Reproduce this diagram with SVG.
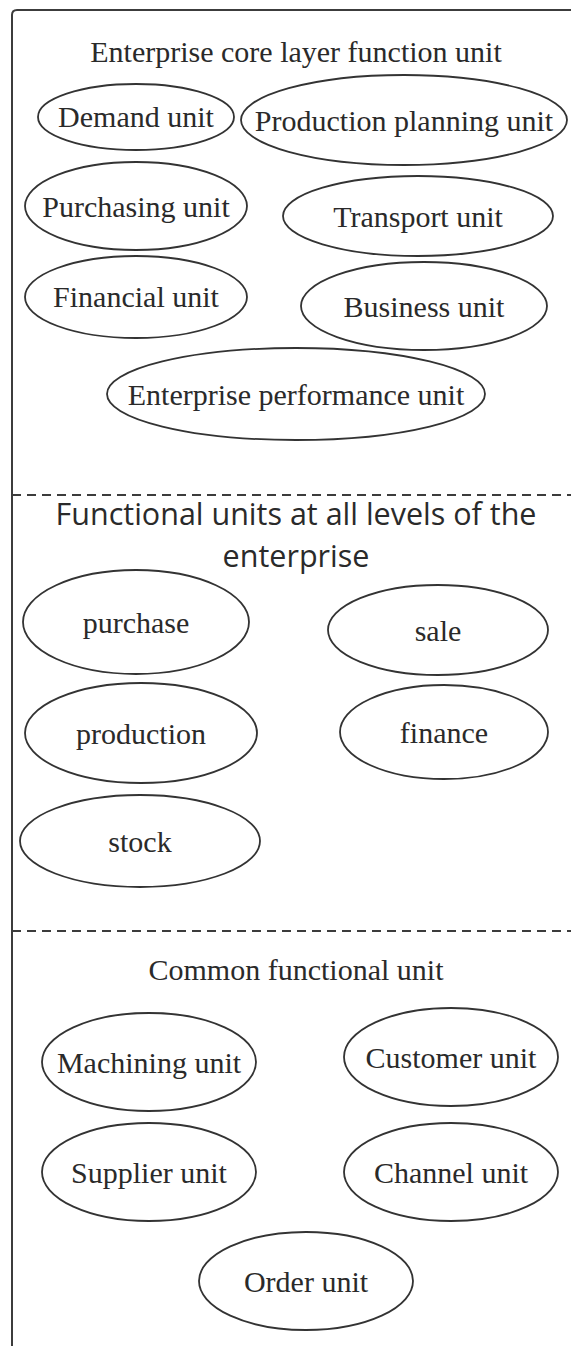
<svg xmlns="http://www.w3.org/2000/svg" width="571" height="1346" viewBox="0 0 571 1346">
<style>
.frame{fill:none;stroke:#3c3c3c;stroke-width:2}
.dash{fill:none;stroke:#3c3c3c;stroke-width:2;stroke-dasharray:9 6}
ellipse{fill:#fff;stroke:#333;stroke-width:1.8}
.t{font-family:"Liberation Serif","Times New Roman",serif;font-size:30px;fill:#2a2a2a;text-anchor:middle;dominant-baseline:central}
.h{font-family:"Liberation Serif","Times New Roman",serif;font-size:30px;fill:#2a2a2a;text-anchor:middle}
.s{font-family:"Open Sans","Noto Sans",sans-serif;font-size:30.5px;fill:#2a2a2a;text-anchor:middle}
</style>
<g id="frame">
<path class="frame" d="M12,1346 L12,15 Q12,10 17,10 L571,10"/>
<line class="dash" x1="12" y1="495" x2="571" y2="495"/>
<line class="dash" x1="12" y1="931" x2="571" y2="931"/>
</g>
<g id="titles">
<text class="h" x="296" y="62">Enterprise core layer function unit</text>
<text class="s" x="296" y="525">Functional units at all levels of the</text>
<text class="s" x="296" y="567">enterprise</text>
<text class="h" x="296" y="980">Common functional unit</text>
</g>
<g id="n-demand"><ellipse cx="136" cy="117" rx="98" ry="33"/><text class="t" x="136" y="116">Demand unit</text></g>
<g id="n-ppu"><ellipse cx="404" cy="120" rx="163" ry="45"/><text class="t" x="404" y="120">Production planning unit</text></g>
<g id="n-purchasing"><ellipse cx="136" cy="206" rx="111" ry="44"/><text class="t" x="136" y="206">Purchasing unit</text></g>
<g id="n-transport"><ellipse cx="418" cy="216" rx="135" ry="40"/><text class="t" x="418" y="216">Transport unit</text></g>
<g id="n-financial"><ellipse cx="136" cy="297" rx="111" ry="41"/><text class="t" x="136" y="296">Financial unit</text></g>
<g id="n-business"><ellipse cx="424" cy="306" rx="123" ry="44"/><text class="t" x="424" y="306">Business unit</text></g>
<g id="n-perf"><ellipse cx="296" cy="394" rx="189" ry="46"/><text class="t" x="296" y="394">Enterprise performance unit</text></g>
<g id="n-purchase"><ellipse cx="136" cy="622" rx="113" ry="52"/><text class="t" x="136" y="622">purchase</text></g>
<g id="n-sale"><ellipse cx="438" cy="630" rx="110" ry="45"/><text class="t" x="438" y="630">sale</text></g>
<g id="n-production"><ellipse cx="141" cy="733" rx="116" ry="50"/><text class="t" x="141" y="733">production</text></g>
<g id="n-finance"><ellipse cx="444" cy="732" rx="104" ry="47"/><text class="t" x="444" y="732">finance</text></g>
<g id="n-stock"><ellipse cx="140" cy="841" rx="120" ry="46"/><text class="t" x="140" y="841">stock</text></g>
<g id="n-machining"><ellipse cx="149" cy="1062" rx="107" ry="49"/><text class="t" x="149" y="1062">Machining unit</text></g>
<g id="n-customer"><ellipse cx="451" cy="1057" rx="107" ry="49"/><text class="t" x="451" y="1057">Customer unit</text></g>
<g id="n-supplier"><ellipse cx="149" cy="1172" rx="107" ry="49"/><text class="t" x="149" y="1172">Supplier unit</text></g>
<g id="n-channel"><ellipse cx="451" cy="1172" rx="107" ry="49"/><text class="t" x="451" y="1172">Channel unit</text></g>
<g id="n-order"><ellipse cx="306" cy="1281" rx="107" ry="49"/><text class="t" x="306" y="1281">Order unit</text></g>
<g id="connectors"></g>
</svg>
